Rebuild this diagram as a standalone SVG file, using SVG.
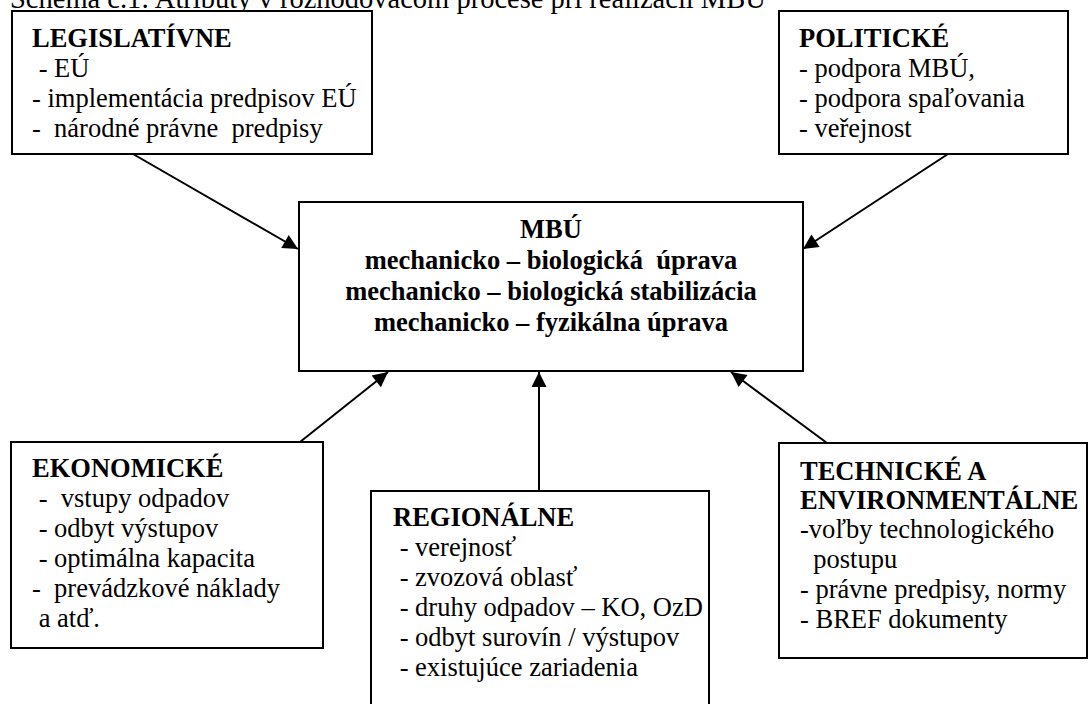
<svg xmlns="http://www.w3.org/2000/svg" width="1090" height="704" viewBox="0 0 1090 704" font-family="'Liberation Serif', 'Times New Roman', Times, 'DejaVu Serif', serif">
<style>
text{font-family:'Liberation Serif','Times New Roman',Times,'DejaVu Serif',serif;font-size:26.5px;fill:#000;white-space:pre}
.t{font-size:28.5px}
.b{font-weight:bold}
.m{text-anchor:middle;font-weight:bold}
.box{fill:#fff;stroke:#000;stroke-width:2}
.c{stroke:#000;stroke-width:2;fill:none;marker-end:url(#ah)}
</style>
<defs>
<marker id="ah" viewBox="0 0 10 10" refX="10" refY="5" markerWidth="17" markerHeight="15" markerUnits="userSpaceOnUse" orient="auto">
<path d="M0,0 L10,5 L0,10 z" fill="#000"/>
</marker>
</defs>
<rect width="1090" height="704" fill="#fff"/>
<text class="t" x="10" y="8">Schéma č.1: Atribúty v rozhodovacom procese pri realizácii MBÚ</text>
<g id="connectors">
<path class="c" d="M133,154 L298,249"/>
<path class="c" d="M948,154 L803,249"/>
<path class="c" d="M300,442 L388,372"/>
<path class="c" d="M539,491 L539,372"/>
<path class="c" d="M827,443 L731,372"/>
</g>
<g id="legislativne">
<rect class="box" x="12" y="11" width="360" height="143"/>
<text class="b" x="32" y="47">LEGISLATÍVNE</text>
<text x="32" y="77"> - EÚ</text>
<text x="32" y="107">- implementácia predpisov EÚ</text>
<text x="32" y="137">-  národné právne  predpisy</text>
</g>
<g id="politicke">
<rect class="box" x="779" y="11" width="289" height="143"/>
<text class="b" x="799" y="47">POLITICKÉ</text>
<text x="799" y="77">- podpora MBÚ,</text>
<text x="799" y="107">- podpora spaľovania</text>
<text x="799" y="137">- veřejnost</text>
</g>
<g id="mbu">
<rect class="box" x="299" y="202" width="504" height="169"/>
<text class="m" x="551" y="238">MBÚ</text>
<text class="m" x="551" y="269">mechanicko – biologická  úprava</text>
<text class="m" x="551" y="300">mechanicko – biologická stabilizácia</text>
<text class="m" x="551" y="331">mechanicko – fyzikálna úprava</text>
</g>
<g id="ekonomicke">
<rect class="box" x="11" y="442" width="312" height="206"/>
<text class="b" x="32" y="477">EKONOMICKÉ</text>
<text x="32" y="507"> -  vstupy odpadov</text>
<text x="32" y="537"> - odbyt výstupov</text>
<text x="32" y="567"> - optimálna kapacita</text>
<text x="32" y="597">-  prevádzkové náklady</text>
<text x="32" y="627"> a atď.</text>
</g>
<g id="regionalne">
<rect class="box" x="371" y="491" width="338" height="230"/>
<text class="b" x="393" y="526">REGIONÁLNE</text>
<text x="393" y="556"> - verejnosť</text>
<text x="393" y="586"> - zvozová oblasť</text>
<text x="393" y="616"> - druhy odpadov – KO, OzD</text>
<text x="393" y="646"> - odbyt surovín / výstupov</text>
<text x="393" y="676"> - existujúce zariadenia</text>
</g>
<g id="technicke">
<rect class="box" x="779" y="443" width="308" height="215"/>
<text class="b" x="800" y="480">TECHNICKÉ A</text>
<text class="b" x="800" y="509">ENVIRONMENTÁLNE</text>
<text x="800" y="538">-voľby technologického</text>
<text x="800" y="568">  postupu</text>
<text x="800" y="598">- právne predpisy, normy</text>
<text x="800" y="628">- BREF dokumenty</text>
</g>
</svg>
